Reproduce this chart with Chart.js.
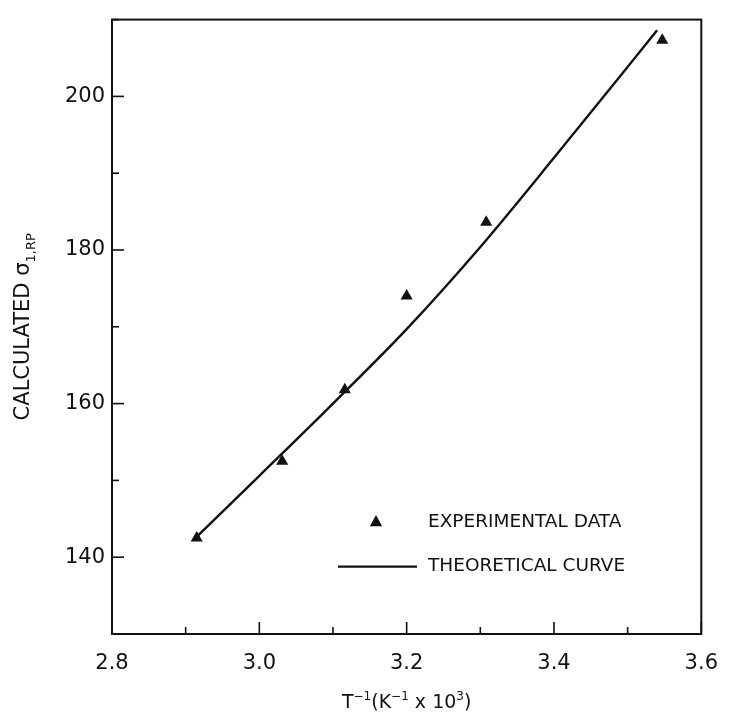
<!DOCTYPE html>
<html>
<head>
<meta charset="utf-8">
<script src="https://cdn.jsdelivr.net/npm/chart.js@4"></script>
<style>
  html, body { margin: 0; padding: 0; background: #fff; }
  #wrap { width: 735px; height: 713px; position: relative; }
</style>
</head>
<body>
<div id="wrap"><canvas id="chart"></canvas></div>
<script>
// tick labels
var xTicks = [2.8, 3.0, 3.2, 3.4, 3.6];
var yTicks = [140, 160, 180, 200];

// experimental points (triangles)
var expX = [2.915, 3.031, 3.116, 3.200, 3.308, 3.547];
var expY = [142.5, 152.5, 161.8, 174.0, 183.6, 207.3];

// theoretical curve
var curveX = [2.91, 3.00, 3.10, 3.20, 3.30, 3.40, 3.54];
var curveY = [142.2, 150.6, 160.0, 169.7, 180.4, 192.0, 208.6];

var ink = '#111';
var font = 'DejaVu Sans';

function isMajor(list, v) {
    for (var i = 0; i < list.length; i++) {
        if (Math.abs(list[i] - v) < 1e-6) return true;
    }
    return false;
}

function pairs(xs, ys) {
    return xs.map(function (x, i) { return { x: x, y: ys[i] }; });
}

var decor = {
    id: 'decor',
    afterDraw: function (chart) {
        var ctx = chart.ctx;
        var a = chart.chartArea;
        var xs = chart.scales.x, ys = chart.scales.y;
        ctx.save();
        ctx.strokeStyle = ink;
        ctx.fillStyle = ink;
        ctx.lineWidth = 2;
        ctx.strokeRect(a.left, a.top, a.right - a.left, a.bottom - a.top);

        // inner tick marks
        ctx.lineWidth = 1.6;
        xs.ticks.forEach(function (t) {
            var px = xs.getPixelForValue(t.value);
            var len = isMajor(xTicks, t.value) ? 12 : 7;
            ctx.beginPath();
            ctx.moveTo(px, a.bottom);
            ctx.lineTo(px, a.bottom - len);
            ctx.stroke();
        });
        ys.ticks.forEach(function (t) {
            var py = ys.getPixelForValue(t.value);
            var len = isMajor(yTicks, t.value) ? 12 : 7;
            ctx.beginPath();
            ctx.moveTo(a.left, py);
            ctx.lineTo(a.left + len, py);
            ctx.stroke();
        });

        // x axis title: T^-1(K^-1 x 10^3)
        var parts = [
            ['T', 0], ['\u22121', 1], ['(K', 0], ['\u22121', 1], [' x 10', 0], ['3', 1], [')', 0]
        ];
        var big = '19px "' + font + '"', small = '12px "' + font + '"';
        var total = 0;
        parts.forEach(function (p) {
            ctx.font = p[1] ? small : big;
            total += ctx.measureText(p[0]).width;
        });
        var cx = (a.left + a.right) / 2 - total / 2;
        var base = a.bottom + 74;
        ctx.textBaseline = 'alphabetic';
        ctx.textAlign = 'left';
        parts.forEach(function (p) {
            ctx.font = p[1] ? small : big;
            ctx.fillText(p[0], cx, p[1] ? base - 8 : base);
            cx += ctx.measureText(p[0]).width;
        });

        // y axis title: CALCULATED sigma_1,RP (rotated)
        ctx.save();
        var midY = (a.top + a.bottom) / 2;
        ctx.translate(29, midY);
        ctx.rotate(-Math.PI / 2);
        var yparts = [['CALCULATED \u03c3', 0], ['1,RP', 1]];
        var ybig = '21px "' + font + '"', ysmall = '13px "' + font + '"';
        var ytotal = 0;
        yparts.forEach(function (p) {
            ctx.font = p[1] ? ysmall : ybig;
            ytotal += ctx.measureText(p[0]).width;
        });
        var tx = -ytotal / 2;
        yparts.forEach(function (p) {
            ctx.font = p[1] ? ysmall : ybig;
            ctx.fillText(p[0], tx, p[1] ? 6 : 0);
            tx += ctx.measureText(p[0]).width;
        });
        ctx.restore();

        // legend
        var lx = a.left, ly = a.top;
        ctx.font = '18.5px "' + font + '"';
        ctx.textBaseline = 'middle';
        ctx.fillText('EXPERIMENTAL DATA', lx + 316, ly + 503);
        ctx.fillText('THEORETICAL CURVE', lx + 316, ly + 547);
        ctx.beginPath();
        var tr = 6.5, tcx = lx + 264, tcy = ly + 502;
        ctx.moveTo(tcx, tcy - tr);
        ctx.lineTo(tcx + tr * 0.95, tcy + tr * 0.7);
        ctx.lineTo(tcx - tr * 0.95, tcy + tr * 0.7);
        ctx.closePath();
        ctx.fill();
        ctx.lineWidth = 2.4;
        ctx.beginPath();
        ctx.moveTo(lx + 226, ly + 547);
        ctx.lineTo(lx + 305, ly + 547);
        ctx.stroke();
        ctx.restore();
    }
};

var chart = new Chart(document.getElementById('chart').getContext('2d'), {
    type: 'scatter',
    data: {
        datasets: [{
            label: 'THEORETICAL CURVE',
            type: 'line',
            data: pairs(curveX, curveY),
            borderColor: ink,
            borderWidth: 2.4,
            pointRadius: 0,
            cubicInterpolationMode: 'monotone',
            fill: false
        }, {
            label: 'EXPERIMENTAL DATA',
            data: pairs(expX, expY),
            pointStyle: 'triangle',
            pointRadius: 7,
            backgroundColor: ink,
            borderColor: ink,
            borderWidth: 0
        }]
    },
    options: {
        responsive: true,
        maintainAspectRatio: false,
        animation: false,
        layout: { padding: { left: 0, right: 20, top: 13, bottom: 0 } },
        plugins: { legend: { display: false }, tooltip: { enabled: false } },
        scales: {
            x: {
                type: 'linear',
                min: 2.8,
                max: 3.6,
                grid: { display: false, drawTicks: false },
                border: { display: false },
                ticks: {
                    stepSize: 0.1,
                    autoSkip: false,
                    maxRotation: 0,
                    padding: 17,
                    color: ink,
                    font: { family: font, size: 21 },
                    callback: function (v) {
                        return isMajor(xTicks, v) ? v.toFixed(1) : '';
                    }
                },
                afterFit: function (s) { s.height = 79; }
            },
            y: {
                type: 'linear',
                min: 130,
                max: 210,
                grid: { display: false, drawTicks: false },
                border: { display: false },
                ticks: {
                    stepSize: 10,
                    autoSkip: false,
                    padding: 7,
                    color: ink,
                    font: { family: font, size: 21 },
                    callback: function (v) {
                        return isMajor(yTicks, v) ? String(v) : '';
                    }
                },
                afterFit: function (s) { s.width = 112; }
            }
        }
    },
    plugins: [decor]
});
</script>
</body>
</html>
